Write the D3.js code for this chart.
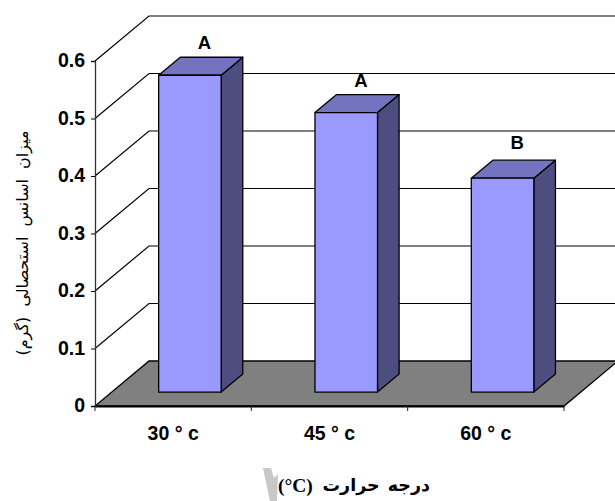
<!DOCTYPE html>
<html lang="en">
<head>
  <meta charset="utf-8" />
  <title>Essential oil yield by temperature</title>
  <style>
    body { margin: 0; background: #fff; }
    svg { display: block; }
    .tick-label { font: bold 19.5px "Liberation Sans", Arial, sans-serif; fill: #000; stroke: none; }
    .letter { font: bold 18.5px "Liberation Sans", Arial, sans-serif; fill: #000; stroke: none; text-anchor: middle; }
    .axis-title { font-family: "DejaVu Sans", serif; fill: #000; }
    .unit { font: bold 19.5px "Liberation Serif", "Times New Roman", serif; fill: #000; }
  </style>
  <script src="https://d3js.org/d3.v7.min.js"></script>
</head>
<body>
  <svg width="615" height="501"></svg>
  <script>
    const categories = ["30 ° c", "45 ° c", "60 ° c"];
    const values = [0.551, 0.486, 0.372];
    const letters = ["A", "A", "B"];
    const yTicks = [0, 0.1, 0.2, 0.3, 0.4, 0.5, 0.6];

    const svg = d3.select("svg");

    // front plane of the 3d box, the back wall is that shifted by depth
    const x = d3.scaleBand().domain(categories).range([95, 564]);
    const y = d3.scaleLinear().domain([0, 0.6]).range([406, 61]);
    const depthX = 54, depthY = -45;
    const barFront = 0.31, barBack = 0.71;
    const barWidth = x.bandwidth() / 2.5;
    const letterGap = [8, 8, 11];

    const px = (v, t) => v + depthX * t;
    const py = (v, t) => v + depthY * t;
    const line = d3.line();

    // floor
    svg.append("path")
      .attr("d", line([[x.range()[0], y(0)], [x.range()[1], y(0)],
        [px(x.range()[1], 1), py(y(0), 1)], [px(x.range()[0], 1), py(y(0), 1)]]) + "Z")
      .attr("fill", "#808080")
      .attr("stroke", "#000")
      .attr("stroke-width", 1.3);

    // grid lines on side wall and back wall
    const grid = svg.append("g").attr("fill", "none").attr("stroke", "#000").attr("stroke-width", 1.2);
    yTicks.forEach(t => {
      if (t === 0) return;
      grid.append("path").attr("d", line([
        [x.range()[0], y(t)],
        [px(x.range()[0], 1), py(y(t), 1)],
        [px(x.range()[1], 1), py(y(t), 1)]
      ]));
    });

    // bars
    const bars = svg.append("g").attr("stroke", "#000").attr("stroke-width", 1.3).attr("stroke-linejoin", "round")
      .selectAll("g")
      .data(categories.map((c, i) => ({ c, v: values[i], letter: letters[i], gap: letterGap[i] })))
      .join("g");

    const left = d => x(d.c) + (x.bandwidth() - barWidth) / 2;
    const right = d => left(d) + barWidth;

    bars.append("path") // side
      .attr("fill", "#4d4d7f")
      .attr("d", d => line([
        [px(right(d), barFront), py(y(0), barFront)],
        [px(right(d), barBack), py(y(0), barBack)],
        [px(right(d), barBack), py(y(d.v), barBack)],
        [px(right(d), barFront), py(y(d.v), barFront)]
      ]) + "Z");

    bars.append("path") // top
      .attr("fill", "#7373bf")
      .attr("d", d => line([
        [px(left(d), barFront), py(y(d.v), barFront)],
        [px(right(d), barFront), py(y(d.v), barFront)],
        [px(right(d), barBack), py(y(d.v), barBack)],
        [px(left(d), barBack), py(y(d.v), barBack)]
      ]) + "Z");

    bars.append("path") // front
      .attr("fill", "#9999ff")
      .attr("d", d => line([
        [px(left(d), barFront), py(y(0), barFront)],
        [px(right(d), barFront), py(y(0), barFront)],
        [px(right(d), barFront), py(y(d.v), barFront)],
        [px(left(d), barFront), py(y(d.v), barFront)]
      ]) + "Z");

    bars.append("text")
      .attr("class", "letter")
      .attr("x", d => px(left(d) + barWidth / 2, 0.58))
      .attr("y", d => py(y(d.v), barBack) - d.gap)
      .text(d => d.letter);

    // axes
    const yAxis = svg.append("g")
      .attr("transform", `translate(${x.range()[0]},0)`)
      .call(d3.axisLeft(y).tickValues(yTicks).tickFormat(d => d).tickSize(4).tickPadding(6));
    yAxis.select(".domain").attr("stroke", "#333").attr("stroke-width", 1.3);
    yAxis.selectAll("text").attr("class", "tick-label").attr("dy", "0.3em");

    const xAxis = svg.append("g")
      .attr("transform", `translate(0,${y(0)})`)
      .call(d3.axisBottom(x).tickValues([]).tickSizeOuter(0));
    xAxis.select(".domain").attr("stroke", "#000").attr("stroke-width", 1.8);

    // ticks sit on the band edges, not the centres
    xAxis.selectAll(".edge")
      .data([...categories.map(c => x(c)), x.range()[1]])
      .join("line")
      .attr("x1", d => d).attr("x2", d => d)
      .attr("y1", 0).attr("y2", 5)
      .attr("stroke", "#222").attr("stroke-width", 1);

    xAxis.selectAll(".cat")
      .data(categories)
      .join("text")
      .attr("class", "tick-label")
      .attr("text-anchor", "middle")
      .attr("x", d => x(d) + x.bandwidth() / 2)
      .attr("y", 34)
      .text(d => d);

    // axis titles
    svg.append("text")
      .attr("class", "axis-title")
      .attr("transform", "translate(28,243) rotate(-90)")
      .attr("text-anchor", "middle")
      .attr("font-size", 16)
      .attr("word-spacing", 5)
      .attr("direction", "rtl")
      .text("میزان اسانس استحصالی (گرم)");

    // stray grey wedge left of the x title in the scan
    svg.append("path")
      .attr("d", line([[263, 468], [271, 468], [274, 478], [278, 474], [277, 501], [270, 501]]) + "Z")
      .attr("fill", "#c8c8c8");

    svg.append("text")
      .attr("class", "unit")
      .attr("x", 278)
      .attr("y", 492)
      .text("(°C)");

    svg.append("text")
      .attr("class", "axis-title")
      .attr("x", 430)
      .attr("y", 491)
      .attr("text-anchor", "start")
      .attr("font-size", 17.5)
      .attr("font-weight", "bold")
      .attr("word-spacing", 2)
      .attr("direction", "rtl")
      .text("درجه حرارت");
  </script>
</body>
</html>
